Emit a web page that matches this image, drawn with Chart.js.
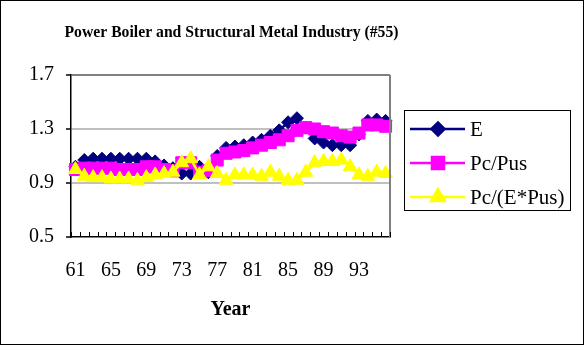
<!DOCTYPE html>
<html>
<head>
<meta charset="utf-8">
<script src="https://cdn.jsdelivr.net/npm/chart.js@4.4.1/dist/chart.umd.min.js"></script>
<style>
  html, body { margin: 0; padding: 0; background: #fff; }
  #wrap { width: 584px; height: 345px; box-sizing: border-box; border: 1px solid #000; }
  canvas { display: block; }
</style>
</head>
<body>
<div id="wrap"><canvas id="chart" width="582" height="343"></canvas></div>
<script>
const TITLE = 'Power Boiler and Structural Metal Industry (#55)';
const YEARS = ['61','62','63','64','65','66','67','68','69','70','71','72','73','74','75','76','77','78',
               '79','80','81','82','83','84','85','86','87','88','89','90','91','92','93','94','95','96'];
const E_VALUES = [1.02, 1.07, 1.08, 1.08, 1.08, 1.08, 1.08, 1.08, 1.08, 1.06, 1.03, 1.01, 0.97, 0.97, 1.02, 0.98, 1.10, 1.16,
                  1.17, 1.18, 1.20, 1.22, 1.25, 1.29, 1.35, 1.38, 1.31, 1.23, 1.20, 1.18, 1.18, 1.18, 1.26, 1.36, 1.37, 1.36];
const PC_PUS = [1.00, 1.01, 1.01, 1.01, 1.01, 1.00, 1.00, 1.00, 1.02, 1.02, 1.00, 0.99, 1.05, 1.05, 0.98, 0.99, 1.07, 1.12,
                1.13, 1.14, 1.16, 1.18, 1.20, 1.22, 1.25, 1.29, 1.31, 1.30, 1.28, 1.27, 1.25, 1.24, 1.27, 1.33, 1.33, 1.32];
const PC_E_PUS = [1.00, 0.95, 0.94, 0.94, 0.93, 0.93, 0.93, 0.92, 0.94, 0.96, 0.97, 0.98, 1.05, 1.08, 0.96, 1.02, 0.97, 0.92,
                  0.96, 0.96, 0.96, 0.95, 0.98, 0.95, 0.92, 0.92, 0.98, 1.05, 1.06, 1.06, 1.07, 1.02, 0.96, 0.95, 0.98, 0.97];
const SERIES_NAMES = ['E', 'Pc/Pus', 'Pc/(E*Pus)'];
const Y_TICKS = [0.5, 0.9, 1.3, 1.7];

const SERIF = "'Liberation Serif', 'Times New Roman', serif";
const NAVY = '#000080', MAGENTA = '#ff00ff', YELLOW = '#ffff00';

// Excel-like extras: title over the plot, gray right border, inside minor ticks, boxed legend
const excelBits = {
  id: 'excelBits',
  afterDraw(chart) {
    const { ctx, chartArea: a, scales: { x } } = chart;
    ctx.save();

    ctx.fillStyle = '#000';
    ctx.font = 'bold 16.5px ' + SERIF;
    ctx.textAlign = 'center';
    ctx.textBaseline = 'alphabetic';
    ctx.fillText(TITLE, (a.left + a.right) / 2 + 1, 36, 334);

    ctx.strokeStyle = '#808080';
    ctx.lineWidth = 2;
    ctx.beginPath();
    ctx.moveTo(a.right, a.top);
    ctx.lineTo(a.right, a.bottom);
    ctx.stroke();

    // minor ticks between categories
    ctx.strokeStyle = '#000';
    ctx.lineWidth = 1;
    const half = (x.getPixelForValue(1) - x.getPixelForValue(0)) / 2;
    ctx.beginPath();
    for (let i = 0; i <= YEARS.length; i++) {
      const px = Math.round(x.getPixelForValue(i) - half) + 0.5;
      ctx.moveTo(px, a.bottom);
      ctx.lineTo(px, a.bottom - 5);
    }
    ctx.stroke();

    // legend
    const bx = 403, by = 109, bw = 166, bh = 100;
    ctx.strokeStyle = '#000';
    ctx.lineWidth = 1;
    ctx.strokeRect(bx + 0.5, by + 0.5, bw, bh);
    const rows = [128, 162, 196];
    chart.data.datasets.forEach((ds, i) => {
      const y = rows[i];
      ctx.strokeStyle = ds.borderColor;
      ctx.lineWidth = 2.5;
      ctx.beginPath();
      ctx.moveTo(409, y);
      ctx.lineTo(464, y);
      ctx.stroke();
      Chart.helpers.drawPoint(ctx, {
        pointStyle: ds.pointStyle, radius: ds.pointRadius, borderWidth: 1, rotation: 0
      }, 437, y);
      ctx.fillStyle = ds.pointBackgroundColor;
      ctx.fill();
      ctx.fillStyle = '#000';
      ctx.font = '21px ' + SERIF;
      ctx.textBaseline = 'middle';
      ctx.textAlign = 'left';
      ctx.fillText(SERIES_NAMES[i], 469, y + 1);
    });
    ctx.restore();
  }
};

function series(label, data, color, style, radius, order) {
  return {
    label, data, order,
    borderColor: color,
    backgroundColor: color,
    pointBackgroundColor: color,
    pointBorderColor: color,
    pointBorderWidth: 1,
    borderWidth: 2.5,
    pointStyle: style,
    pointRadius: radius,
    tension: 0,
  };
}

new Chart(document.getElementById('chart'), {
  type: 'line',
  plugins: [excelBits],
  data: {
    labels: YEARS,
    datasets: [
      series(SERIES_NAMES[0], E_VALUES, NAVY, 'rectRot', 6.5, 3),
      series(SERIES_NAMES[1], PC_PUS, MAGENTA, 'rect', 8.5, 2),
      series(SERIES_NAMES[2], PC_E_PUS, YELLOW, 'triangle', 8, 1),
    ],
  },
  options: {
    responsive: false,
    animation: false,
    layout: { padding: { left: 0, right: 193, top: 74, bottom: 0 } },
    plugins: {
      legend: { display: false },
      tooltip: { enabled: false },
      title: { display: false },
    },
    scales: {
      x: {
        offset: true,
        afterFit: s => { s.height = 107; },
        grid: { display: false, drawTicks: false },
        border: { display: true, color: '#000', width: 1.5 },
        ticks: {
          autoSkip: false,
          maxRotation: 0,
          padding: 22,
          color: '#000',
          font: { family: SERIF, size: 20 },
          callback: (v, i) => (i % 4 === 0 ? YEARS[i] : ''),
        },
        title: {
          display: true,
          text: 'Year',
          color: '#000',
          font: { family: SERIF, size: 20, weight: 'bold' },
          padding: { top: 0, bottom: 22 },
        },
      },
      y: {
        min: Y_TICKS[0],
        max: Y_TICKS[Y_TICKS.length - 1],
        afterFit: s => { s.width = 70; },
        afterBuildTicks: s => { s.ticks = Y_TICKS.map(v => ({ value: v })); },
        grid: {
          color: c => c.tick.value === 1.7 ? '#808080' : (c.tick.value === 0.5 ? 'rgba(0,0,0,0)' : '#c0c0c0'),
          lineWidth: 2,
          drawTicks: true,
          tickLength: 5,
          tickColor: '#000',
          tickWidth: 1.5,
        },
        border: { display: true, color: '#000', width: 1.5 },
        ticks: {
          padding: 12,
          color: '#000',
          font: { family: SERIF, size: 20 },
          callback: v => v.toFixed(1),
        },
      },
    },
  },
});
</script>
</body>
</html>
